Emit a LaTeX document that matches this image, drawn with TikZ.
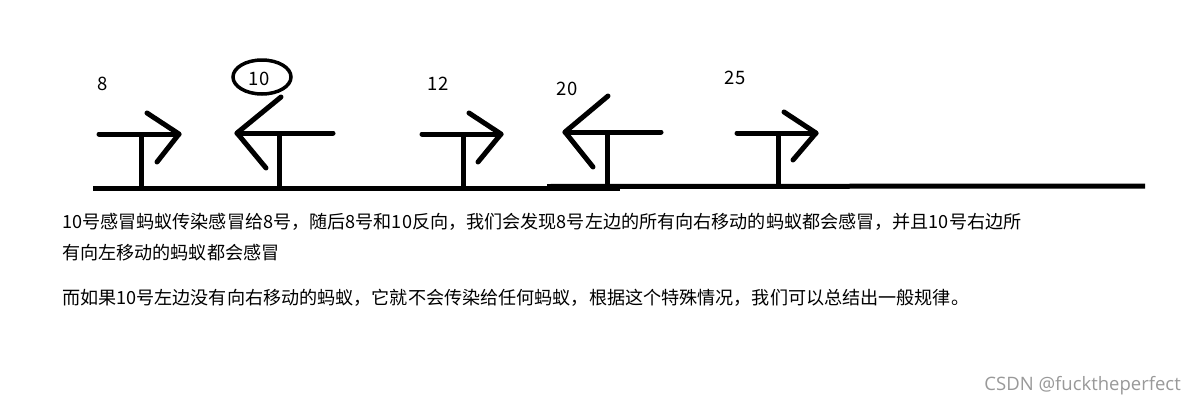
\documentclass[tikz,border=0pt]{standalone}
\usepackage{fontspec}
\setmainfont{Noto Sans CJK SC}
\newfontfamily\wmfont{Open Sans}
\begin{document}
\begin{tikzpicture}[x=1pt,y=-1pt,
  ink/.style={line width=5pt,line cap=round,line join=round},
  num/.style={font=\fontsize{18.5}{21}\selectfont,inner sep=0pt},
  para/.style={font=\fontsize{18.1}{21}\selectfont,inner sep=0pt,anchor=west}]
\useasboundingbox[fill=white] (0,0) rectangle (1197,407);
% ground
\draw[ink,line cap=butt] (93,188) -- (620,188);
\draw[ink,line cap=butt] (547,186.5) -- (1145,186);
% ant 8 (right)
\draw[ink] (99,134) -- (179,134);
\draw[ink,line cap=butt] (141,134) -- (141,188);
\draw[ink] (147,113) -- (179,134) -- (157,162);
% ant 10 (left)
\draw[ink] (333,133) -- (237,133);
\draw[ink,line cap=butt] (279,133) -- (279,188);
\draw[ink] (281,97) -- (237,133) -- (266,168);
% ant 12 (right)
\draw[ink] (422,134) -- (501,134);
\draw[ink,line cap=butt] (463,134) -- (463,188);
\draw[ink] (469,113) -- (501,134) -- (478,162);
% ant 20 (left)
\draw[ink] (661,132) -- (565,132);
\draw[ink,line cap=butt] (607,132) -- (607,187);
\draw[ink] (608,96) -- (565,132) -- (593,167);
% ant 25 (right)
\draw[ink] (737,133) -- (816,133);
\draw[ink,line cap=butt] (778,133) -- (778,186);
\draw[ink] (784,112) -- (816,133) -- (793,160);
% labels
\node[num] (l8) at (103,84) {8};
\node[num] (l10) at (259,79) {10};
\draw[line width=3.5pt] (262,77) ellipse [x radius=29, y radius=17];
\node[num] (l12) at (438,84) {12};
\node[num] (l20) at (567,89) {20};
\node[num] (l25) at (735,78) {25};
% text
\node[para] (t1) at (62,222) {10号感冒蚂蚁传染感冒给8号，随后8号和10反向，我们会发现8号左边的所有向右移动的蚂蚁都会感冒，并且10号右边所};
\node[para] (t2) at (62,253) {有向左移动的蚂蚁都会感冒};
\node[para] (t3) at (62,298) {而如果10号左边没有向右移动的蚂蚁，它就不会传染给任何蚂蚁，根据这个特殊情况，我们可以总结出一般规律。};
\node[font=\wmfont\fontsize{18.5}{20}\selectfont,text=black!40,inner sep=0pt,anchor=east] (wm) at (1181,386) {CSDN @fucktheperfect};
\end{tikzpicture}
\end{document}
